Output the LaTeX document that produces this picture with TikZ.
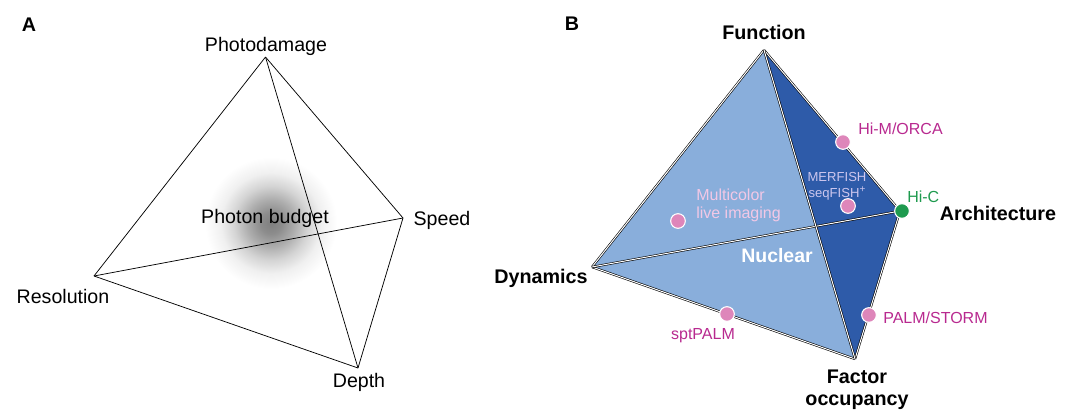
\documentclass[tikz,border=0pt]{standalone}
\usepackage{fontspec}
\setmainfont{Liberation Sans}
\definecolor{lightface}{HTML}{89AEDB}
\definecolor{darkface}{HTML}{2E5BA9}
\definecolor{magtext}{HTML}{B8298F}
\definecolor{dotpink}{HTML}{DE86BA}
\definecolor{hicgreen}{HTML}{1E9A4E}
\definecolor{merfishtext}{HTML}{CCC6EE}
\definecolor{multitext}{HTML}{F2C8E6}
\pgfdeclareradialshading{blurshade}{\pgfpoint{0bp}{0bp}}{color(0bp)=(black!50); color(4bp)=(black!45); color(9bp)=(black!32); color(14bp)=(black!17); color(19bp)=(black!6); color(25bp)=(white); color(50bp)=(white)}
\tikzset{
  thinedge/.style={black, line width=0.55pt},
  dbledge/.style={black, line width=0.45pt, double=white, double distance=0.75pt},
  plainlbl/.style={font=\fontsize{14.7pt}{17pt}\selectfont, anchor=base, inner sep=0pt},
  boldlbl/.style={font=\fontsize{14.8pt}{15.8pt}\selectfont\bfseries, anchor=base, inner sep=0pt, align=center},
  techlbl/.style={font=\fontsize{12pt}{14pt}\selectfont, text=magtext, anchor=base west, inner sep=0pt},
  pinkdot/.style={circle, fill=dotpink, draw=white, line width=0.8pt, minimum size=11pt, inner sep=0pt},
}
\begin{document}
\begin{tikzpicture}[x=0.75pt, y=-0.75pt]
\useasboundingbox (0,0) rectangle (1066,410);
% ---------- Panel A ----------
\node[boldlbl, anchor=center] (pa) at (29,25) {A};
\coordinate (pd) at (265.5,57);
\coordinate (sp) at (403,218);
\coordinate (re) at (94,276);
\coordinate (de) at (358,368);
\shade[shading=blurshade] (271,223) circle (66);
\draw[thinedge] (pd) -- (re);
\draw[thinedge] (pd) -- (sp);
\draw[thinedge] (re) -- (de);
\draw[thinedge] (sp) -- (de);
\node[plainlbl] (pbud) at (265,223) {Photon budget};
\draw[thinedge] (pd) -- (de);
\draw[thinedge] (re) -- (sp);
\node[plainlbl] (lpd) at (266,52) {Photodamage};
\node[plainlbl] (lsp) at (442,225) {Speed};
\node[plainlbl] (lre) at (63,303) {Resolution};
\node[plainlbl] (lde) at (359,387) {Depth};
% ---------- Panel B ----------
\node[boldlbl, anchor=center] (pb) at (572,24) {B};
\coordinate (fn) at (764,50);
\coordinate (ar) at (900,211);
\coordinate (dy) at (592,267);
\coordinate (fo) at (855,359);
\fill[darkface] (fn) -- (ar) -- (fo) -- cycle;
\fill[lightface] (fn) -- (dy) -- (fo) -- cycle;
\draw[dbledge] (fn) -- (dy);
\draw[dbledge] (fn) -- (ar);
\draw[dbledge] (dy) -- (fo);
\draw[dbledge] (ar) -- (fo);
\draw[dbledge] (dy) -- (ar);
\draw[dbledge] (fn) -- (fo);
\node[boldlbl] (lfn) at (764,40) {Function};
\node[boldlbl] (lar) at (998,220) {Architecture};
\node[boldlbl] (ldy) at (541,283) {Dynamics};
\node[boldlbl] (lfo) at (857,405) {Factor\\occupancy};
\node[font=\fontsize{14.6pt}{17pt}\selectfont\bfseries, text=white, anchor=base, inner sep=0pt] (nuc) at (777,262) {Nuclear};
\node[pinkdot] (dhim) at (843,142) {};
\node[pinkdot] (dmer) at (848,206) {};
\node[pinkdot] (dmul) at (678,221) {};
\node[pinkdot] (dspt) at (727,314) {};
\node[pinkdot] (dpal) at (869,315) {};
\node[pinkdot, fill=hicgreen] (dhic) at (902,211) {};
\node[techlbl] (lhim) at (858,134) {Hi-M/ORCA};
\node[techlbl, text=hicgreen] (lhic) at (907,202) {Hi-C};
\node[techlbl] (lpal) at (883,323) {PALM/STORM};
\node[techlbl, anchor=base] (lspt) at (703,339) {sptPALM};
\node[font=\fontsize{12pt}{13.5pt}\selectfont, text=multitext, anchor=base west, inner sep=0pt, align=left] (lmul) at (696,218) {Multicolor\\live imaging};
\node[font=\fontsize{9.8pt}{11.3pt}\selectfont, text=merfishtext, anchor=base, inner sep=0pt, align=center] (lmer) at (837,197) {MERFISH\\seqFISH\raisebox{0.35em}{\fontsize{7.5pt}{8pt}\selectfont +}};
\end{tikzpicture}
\end{document}
